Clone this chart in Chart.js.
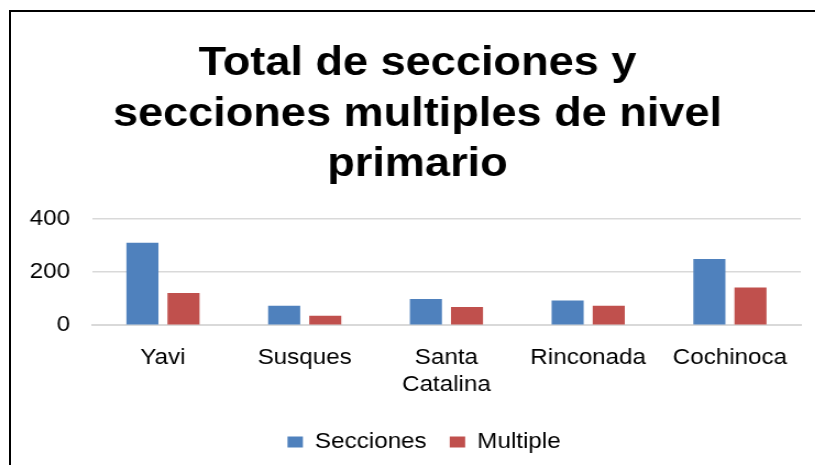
<!DOCTYPE html>
<html>
<head>
<meta charset="utf-8">
<script src="https://cdn.jsdelivr.net/npm/chart.js@4.4.0/dist/chart.umd.min.js"></script>
<style>
  html, body { margin: 0; padding: 0; background: #fff; overflow: hidden; }
  #frame {
    position: absolute; left: 9px; top: 10px;
    width: 820px; height: 470px;
    border-left: 2px solid #000; border-top: 2px solid #000;
  }
  /* the reference text looks stretched sideways, so stretch the whole canvas */
  #wrap {
    position: absolute; left: 0; top: 0; width: 730px; height: 453px;
    transform: scaleX(1.1); transform-origin: 0 0;
  }
</style>
</head>
<body>
<div id="frame"><div id="wrap"><canvas id="chart"></canvas></div></div>
<script>
const categories = ["Yavi", "Susques", ["Santa", "Catalina"], "Rinconada", "Cochinoca"];
const secciones = [309, 73, 98, 93, 248];
const multiple = [121, 35, 68, 73, 141];
const yTicks = [0, 200, 400];

const ctx = document.getElementById("chart").getContext("2d");
Chart.defaults.font.family = "'Liberation Sans', Arial, sans-serif";
Chart.defaults.color = "#000";

// nudge title and legend a bit to the right, like in the original
const boxShift = {
    id: "boxShift",
    afterLayout(chart) {
        const t = chart.titleBlock;
        if (t) { t.left += 12; t.right += 12; }
        const l = chart.legend;
        if (l) { l.left += 18; l.right += 18; }
    }
};

new Chart(ctx, {
    type: "bar",
    data: {
        labels: categories,
        datasets: [{
            label: "Secciones",
            backgroundColor: "#4F81BD",
            data: secciones
        }, {
            label: "Multiple",
            backgroundColor: "#C0504D",
            data: multiple
        }]
    },
    options: {
        responsive: true,
        maintainAspectRatio: false,
        animation: false,
        categoryPercentage: 0.58,
        barPercentage: 0.78,
        layout: { padding: { left: -3, right: 12, top: 26, bottom: 2 } },
        plugins: {
            title: {
                display: true,
                text: ["Total de secciones y", "secciones multiples de nivel", "primario"],
                font: { size: 41, weight: "bold", lineHeight: 1.24 },
                padding: { top: 0, bottom: 28 }
            },
            legend: {
                position: "bottom",
                labels: {
                    boxWidth: 14, boxHeight: 11,
                    font: { size: 22 },
                    padding: 21
                }
            },
            tooltip: { enabled: false }
        },
        scales: {
            x: {
                grid: { display: false },
                border: { color: "#d9d9d9", width: 2 },
                ticks: { font: { size: 22, lineHeight: 1.2 }, maxRotation: 0, padding: 12 }
            },
            y: {
                min: 0, max: 400,
                afterBuildTicks: axis => { axis.ticks = yTicks.map(v => ({ value: v })); },
                grid: { color: "#d9d9d9", lineWidth: 1.5, drawTicks: false },
                border: { display: false },
                ticks: { font: { size: 22 }, padding: 20 }
            }
        }
    },
    plugins: [boxShift]
});
</script>
</body>
</html>
